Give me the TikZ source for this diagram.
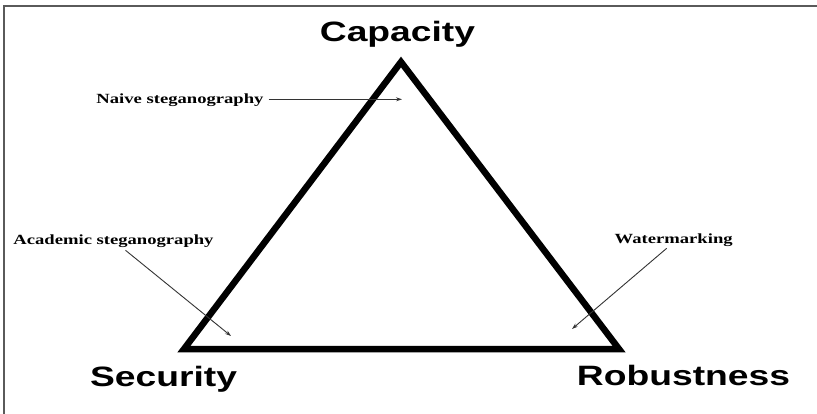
\documentclass[tikz,border=0pt]{standalone}
\usepackage{fontspec}
\usetikzlibrary{arrows.meta}
\newfontfamily\cornerfont[FakeStretch=1.33]{Liberation Sans}
\newfontfamily\notefont[FakeStretch=1.33]{Liberation Serif}
\definecolor{FrameGray}{HTML}{5A5A5A}
\definecolor{PointerGray}{HTML}{333333}

\begin{document}
\begin{tikzpicture}[x=1pt,y=-1pt,
  corner/.style={font=\cornerfont\bfseries\fontsize{28}{30}\selectfont,anchor=base,inner sep=0pt},
  note/.style={font=\notefont\bfseries\fontsize{14}{16}\selectfont,anchor=base,inner sep=5pt},
  pointer/.style={PointerGray,line width=0.9pt,-{Stealth[length=6pt,width=4pt]}}]
  \useasboundingbox (0,0) rectangle (817,414);
  \draw[FrameGray,line width=1.5pt] (4,414) -- (4,6) -- (817,6);

  % the triangle
  \coordinate (top) at (401,62);
  \coordinate (left) at (184,349);
  \coordinate (right) at (619,349);
  \draw[line width=6.5pt,line join=miter] (left) -- (top) -- (right) -- cycle;

  \node[corner] (cap) at (397.5,41.7) {Capacity};
  \node[corner] (sec) at (163.5,386.5) {Security};
  \node[corner] (rob) at (683.5,385.7) {Robustness};

  % notes and their arrows
  \node[note] (naive) at (180,103.3) {Naive steganography};
  \coordinate (naivetip) at (402,99.3);
  \draw[pointer] (naive.east |- naivetip) -- (naivetip);

  \node[note] (acad) at (113.5,245) {Academic steganography};
  \coordinate (acadtip) at (231,336);
  \draw[pointer] ([xshift=12pt,yshift=3pt]acad.south) -- (acadtip);

  \node[note] (water) at (673.7,244) {Watermarking};
  \coordinate (watertip) at (572,329);
  \draw[pointer] ([xshift=-7pt,yshift=4pt]water.south) -- (watertip);
\end{tikzpicture}
\end{document}
